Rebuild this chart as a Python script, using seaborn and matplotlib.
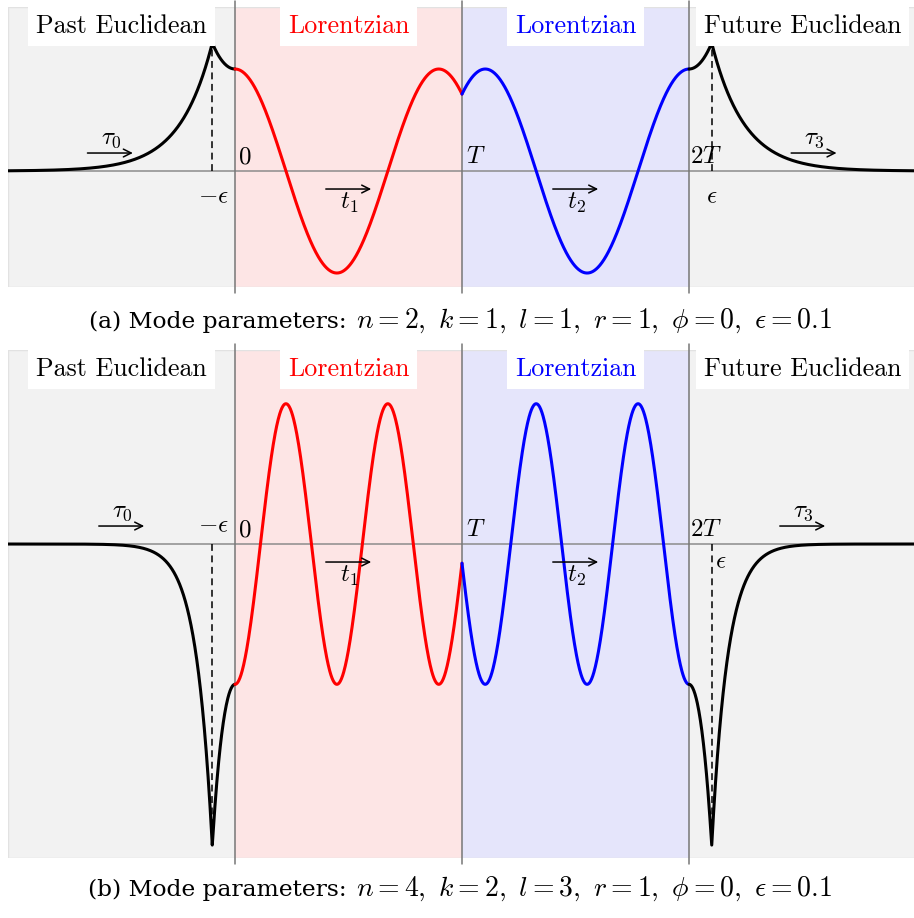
import numpy as np
import pandas as pd
import matplotlib
matplotlib.use("Agg")
import matplotlib.pyplot as plt
from matplotlib.patches import Rectangle
import seaborn as sns

# ---- mode parameters of the two panels ----
panel_tags = ["a", "b"]
mode_n = [2, 4]
mode_k = [1, 2]
mode_l = [1, 3]
mode_r = [1, 1]
mode_phi = [0, 0]
eps = 0.1
T = 1.0
# angular frequency of the Lorentzian oscillation (equal to the Euclidean growth rate)
omega = [7.0, 14.0]
# value of the mode where the Euclidean and Lorentzian pieces meet (t = 0 and t = 2T)
junction_value = [1.0, -1.0]

region_names = ["Past Euclidean", "Lorentzian", "Lorentzian", "Future Euclidean"]
region_text_colors = ["black", "red", "blue", "black"]
region_fill = ["#f2f2f2", "#fde5e5", "#e5e5fb", "#f2f2f2"]
tick_labels = ["$0$", "$T$", "$2T$"]
time_labels = [r"$\tau_0$", r"$t_1$", r"$t_2$", r"$\tau_3$"]

sns.set_style("white")
plt.rcParams["mathtext.fontset"] = "cm"
plt.rcParams["axes.unicode_minus"] = True
plt.rcParams["text.color"] = "black"

W, H = 914, 918
fig = plt.figure(figsize=(W / 100, H / 100), dpi=100)

# axes boxes in pixels: (top, bottom), y-limits
panel_px = [(7, 287), (350, 858)]
ylims = [(-1.137, 1.608), (-2.238, 1.383)]
caption_baseline = [328, 896]
past_arrow_center = [-0.55, -0.5]


def past_euclidean(tau, w, a):
    inner = a * np.cosh(w * tau)
    outer = a * np.cosh(w * eps) * np.exp(w * (tau + eps))
    return np.where(tau >= -eps, inner, outer)


def lorentzian(t, w, a):
    return a * np.cos(w * t)


for i in range(2):
    top, bot = panel_px[i]
    ax = fig.add_axes([8 / W, (H - bot) / H, 908 / W, (bot - top) / H])
    y0, y1 = ylims[i]
    ax.set_xlim(-1, 3)
    ax.set_ylim(y0, y1)
    unit = (bot - top) / (y1 - y0)  # pixels per y unit
    w, a = omega[i], junction_value[i]

    # region shading
    for j, c in enumerate(region_fill):
        ax.axvspan(j - 1, j, color=c, lw=0, zorder=0)
    ax.add_patch(Rectangle((0, 0), 1, 1, transform=ax.transAxes, fill=False,
                           ec="#e2e2e2", lw=1.0, zorder=0.5))
    for s in ax.spines.values():
        s.set_visible(False)
    ax.set_xticks([])
    ax.set_yticks([])

    # time axis and the region boundaries
    ax.axhline(0, color="#8c8c8c", lw=1.1, zorder=1)
    ext = 6 / unit
    for xb in [0, T, 2 * T]:
        ax.plot([xb, xb], [y0 - ext, y1 + ext], color="#777777", lw=1.1,
                clip_on=False, zorder=1)

    # the mode function on the four pieces
    tau_p = np.linspace(-1, 0, 600)
    t_1 = np.linspace(0, T, 600)
    t_2 = np.linspace(T, 2 * T, 600)
    tau_f = np.linspace(2 * T, 3, 600)
    pieces = [
        (tau_p, past_euclidean(tau_p, w, a), "black"),
        (t_1, lorentzian(t_1, w, a), "red"),
        (t_2, lorentzian(2 * T - t_2, w, a), "blue"),
        (tau_f, past_euclidean(2 * T - tau_f, w, a), "black"),
    ]
    for xs, ys, col in pieces:
        df = pd.DataFrame({"t": xs, "f": ys})
        sns.lineplot(data=df, x="t", y="f", ax=ax, color=col, lw=2.2,
                     sort=False, estimator=None, zorder=3,
                     solid_capstyle="round")
    ax.set_xlabel("")
    ax.set_ylabel("")

    # dashed markers at -eps and 2T + eps
    peak = float(past_euclidean(np.array(-eps), w, a))
    for xd in [-eps, 2 * T + eps]:
        ax.plot([xd, xd], [0, peak], color="black", lw=1.1,
                ls=(0, (4.5, 3.0)), zorder=2)

    # region titles in white boxes
    ytxt = 1 - 19 / (bot - top)
    for j, (name, col) in enumerate(zip(region_names, region_text_colors)):
        ax.text(j - 0.5, ytxt, name, transform=ax.get_xaxis_transform(),
                ha="center", va="center", color=col, family="cmr10",
                fontsize=18.7, zorder=5,
                bbox=dict(boxstyle="square,pad=0.3", fc="white", ec="none"))

    # boundary labels
    for xb, lab, dx in zip([0, T, 2 * T], tick_labels, [3, 4, 1]):
        ax.annotate(lab, (xb, 0), xytext=(dx, 3), textcoords="offset pixels",
                    ha="left", va="bottom", fontsize=18, zorder=4)
    if a > 0:
        ax.annotate(r"$-\epsilon$", (-eps, 0), xytext=(1, -13),
                    textcoords="offset pixels", ha="center", va="top",
                    fontsize=18, zorder=4)
        ax.annotate(r"$\epsilon$", (2 * T + eps, 0), xytext=(0, -13),
                    textcoords="offset pixels", ha="center", va="top",
                    fontsize=18, zorder=4)
    else:
        ax.annotate(r"$-\epsilon$", (-eps, 0), xytext=(1, 7),
                    textcoords="offset pixels", ha="center", va="bottom",
                    fontsize=18, zorder=4)
        ax.annotate(r"$\epsilon$", (2 * T + eps, 0), xytext=(3, -5),
                    textcoords="offset pixels", ha="left", va="top",
                    fontsize=18, zorder=4)

    # time-direction arrows
    dy = 18 / unit
    centers = [past_arrow_center[i], 0.5, 1.5, 2 * T - past_arrow_center[i]]
    for c, lab, above in zip(centers, time_labels, [True, False, False, True]):
        yy = dy if above else -dy
        ax.annotate("", xy=(c + 0.1, yy), xytext=(c - 0.1, yy),
                    arrowprops=dict(arrowstyle="->", lw=1.1, color="black",
                                    shrinkA=0, shrinkB=0, mutation_scale=14),
                    zorder=4)
        if above:
            ax.annotate(lab, (c, yy), xytext=(1, 3), textcoords="offset pixels",
                        ha="center", va="bottom", fontsize=18, zorder=4)
        else:
            ax.annotate(lab, (c, yy), xytext=(1, -2), textcoords="offset pixels",
                        ha="center", va="top", fontsize=18, zorder=4)

    # caption: prose part and formula part
    yb = 1 - caption_baseline[i] / H
    fig.text(347 / W, yb, f"({panel_tags[i]}) Mode parameters:",
             ha="right", va="baseline", family="DejaVu Serif", fontsize=16.8)
    fig.text(356 / W, yb,
             rf"$n={mode_n[i]},\ k={mode_k[i]},\ l={mode_l[i]},\ "
             rf"r={mode_r[i]},\ \phi={mode_phi[i]},\ \epsilon={eps}$",
             ha="left", va="baseline", fontsize=20)

fig.savefig("out.png", dpi=100)
